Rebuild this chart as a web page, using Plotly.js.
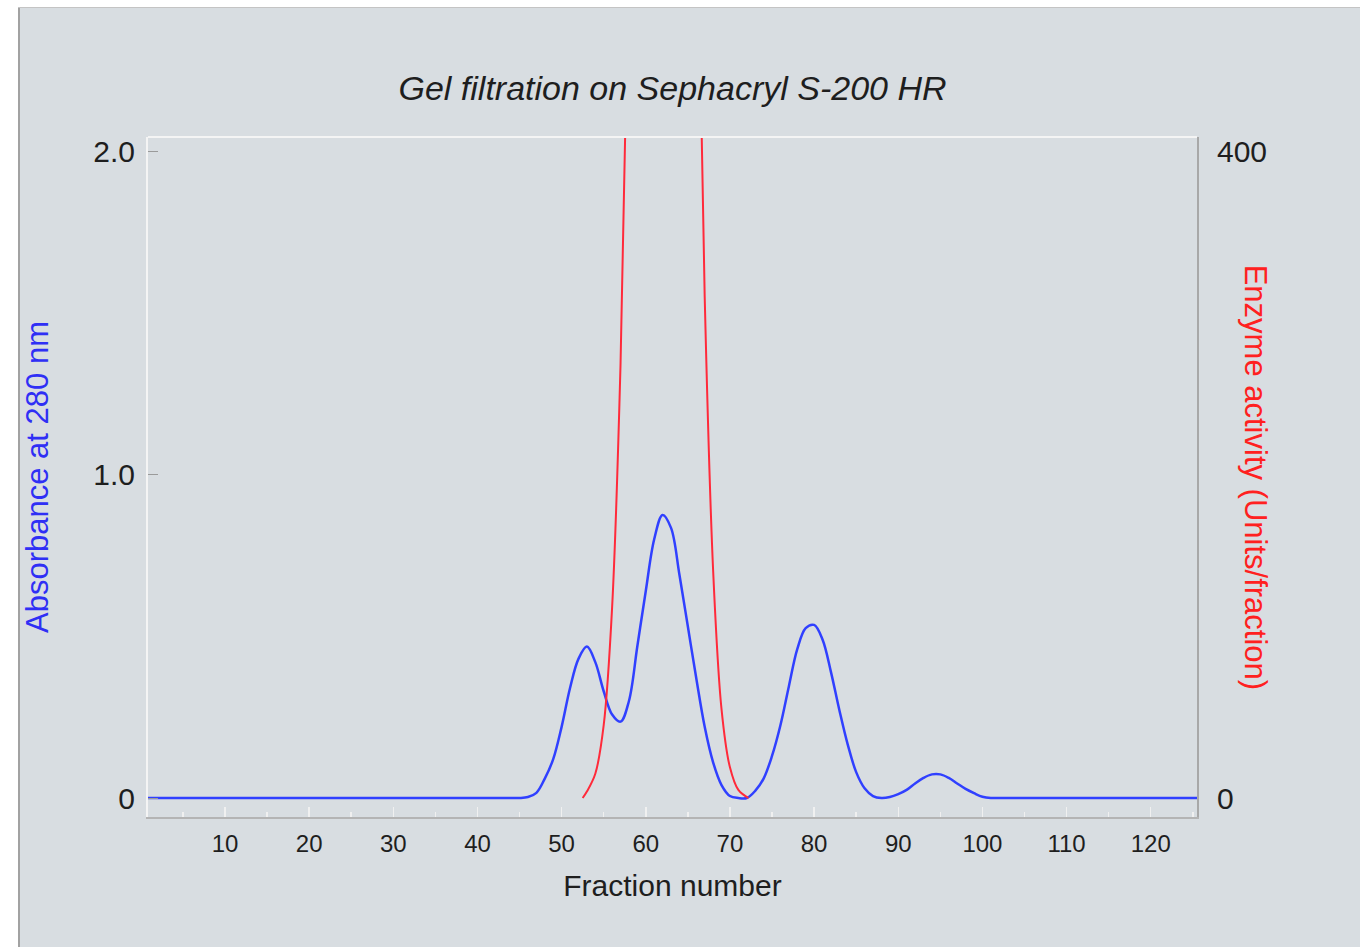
<!DOCTYPE html>
<html>
<head>
<meta charset="utf-8">
<script src="https://cdn.plot.ly/plotly-3.0.1.min.js"></script>
<style>
  html, body { margin: 0; padding: 0; background: #ffffff; width: 1360px; height: 947px; overflow: hidden; }
  #frameLeft { position: absolute; left: 18px; top: 7px; width: 2px; height: 940px; background: #a2a2a2; }
  #frameTop { position: absolute; left: 18px; top: 7px; width: 1342px; height: 1px; background: #c4c4c4; }
  #chart { position: absolute; left: 20px; top: 8px; width: 1340px; height: 939px; }
</style>
</head>
<body>
<div id="frameLeft"></div>
<div id="frameTop"></div>
<div id="chart"></div>
<script>
// Fraction numbers and absorbance at 280 nm (blue)
const absFractions = [0,5,10,15,20,25,30,35,40,44,45,46,47,48,49,50,51,52,53,54,55,56,57,58,59,60,61,62,63,64,65,66,67,68,69,70,71,72,73,74,75,76,77,78,79,80,81,82,83,84,85,86,87,88,89,90,91,92,93,94,95,96,97,98,99,100,101,102,105,110,115,120,126];
const absorbance = [0,0,0,0,0,0,0,0,0,0,0,0.003,0.016,0.06,0.12,0.22,0.34,0.43,0.468,0.42,0.33,0.258,0.236,0.3,0.47,0.64,0.8,0.875,0.835,0.69,0.53,0.37,0.22,0.11,0.04,0.006,0,0,0.022,0.06,0.13,0.225,0.345,0.46,0.525,0.535,0.49,0.39,0.272,0.165,0.08,0.03,0.006,0,0.003,0.012,0.025,0.045,0.062,0.073,0.073,0.062,0.045,0.028,0.015,0.004,0,0,0,0,0,0,0];

// Enzyme activity (red), units per fraction
const actFractions = [52.5,53,54,55,56,57,58,59,60,61,62,63,64,65,66,67,68,69,70,71,72.2];
const activity = [0,4,15,45,118,268,526,891,1303,1647,1800,1696,1382,972,591,310,141,55,19,5,0];

// Axis ticks
const xTickVals = [10,20,30,40,50,60,70,80,90,100,110,120];
const yTickVals = [0,1,2];
const yTickText = ['0','1.0','2.0'];
const y2TickVals = [0,400];
const y2TickText = ['0','400'];

const FONT = '"Liberation Sans", Arial, Helvetica, sans-serif';
const BLUE = '#3040ff';
const RED = '#ff2a3a';

const traces = [
  {
    x: absFractions, y: absorbance, type: 'scatter', mode: 'lines',
    line: { color: BLUE, width: 2.5, shape: 'spline', smoothing: 1 },
    name: 'Absorbance', hoverinfo: 'x+y'
  },
  {
    x: actFractions, y: activity, type: 'scatter', mode: 'lines', yaxis: 'y2',
    line: { color: RED, width: 2, shape: 'spline', smoothing: 1 },
    name: 'Enzyme activity', hoverinfo: 'x+y'
  }
];

const layout = {
  width: 1340, height: 939,
  paper_bgcolor: '#d8dde1', plot_bgcolor: '#d8dde1',
  margin: { l: 128, r: 163, t: 129, b: 130 },
  showlegend: false,
  font: { family: FONT, color: '#1e1e1e' },
  title: {
    text: '<i>Gel filtration on Sephacryl S-200 HR</i>',
    font: { family: FONT, size: 34, color: '#1e1e1e' },
    x: 0.5, xref: 'paper', xanchor: 'center',
    y: 0.9148, yref: 'container', yanchor: 'middle'
  },
  xaxis: {
    range: [0.85, 125.5], tickmode: 'array', tickvals: xTickVals,
    ticks: 'inside', ticklen: 10, tickwidth: 1.5, tickcolor: '#f0f0f0',
    minor: { dtick: 5, tick0: 0, ticks: 'inside', ticklen: 5, tickwidth: 1.5, tickcolor: '#f0f0f0', showgrid: false },
    showline: true, linecolor: '#b4b4b4', linewidth: 2,
    showgrid: false, zeroline: false,
    tickfont: { family: FONT, size: 24, color: '#1e1e1e' },
    ticklabelstandoff: 4,
    title: { text: 'Fraction number', font: { family: FONT, size: 30, color: '#1e1e1e' }, standoff: 19 }
  },
  yaxis: {
    range: [-0.0587, 2.0433], tickmode: 'array', tickvals: yTickVals, ticktext: yTickText,
    ticks: 'inside', ticklen: 10, tickwidth: 1, tickcolor: '#9a9a9a',
    showline: true, linecolor: '#f4f4f4', linewidth: 2,
    showgrid: false, zeroline: false,
    tickfont: { family: FONT, size: 30, color: '#1e1e1e' },
    ticklabelstandoff: 5,
    title: { text: 'Absorbance at 280 nm', font: { family: FONT, size: 31, color: '#2f2ff5' }, standoff: 38 }
  },
  yaxis2: {
    overlaying: 'y', side: 'right',
    range: [-11.74, 408.66], tickmode: 'array', tickvals: y2TickVals, ticktext: y2TickText,
    ticks: '', showline: true, linecolor: '#a8a8a8', linewidth: 2,
    showgrid: false, zeroline: false,
    tickfont: { family: FONT, size: 30, color: '#1e1e1e' },
    ticklabelstandoff: 12
  },
  annotations: [
    {
      text: 'Enzyme activity (Units/fraction)', textangle: 90, showarrow: false,
      xref: 'paper', yref: 'paper', x: 1.0553, y: 0.499, xanchor: 'center', yanchor: 'middle',
      font: { family: FONT, size: 31, color: '#ff2020' }
    }
  ],
  shapes: [
    { type: 'line', xref: 'paper', yref: 'paper', x0: 0, x1: 1, y0: 1, y1: 1, line: { color: '#f4f4f4', width: 2 } }
  ]
};

Plotly.newPlot('chart', traces, layout, { displayModeBar: false, staticPlot: true });
</script>
</body>
</html>
